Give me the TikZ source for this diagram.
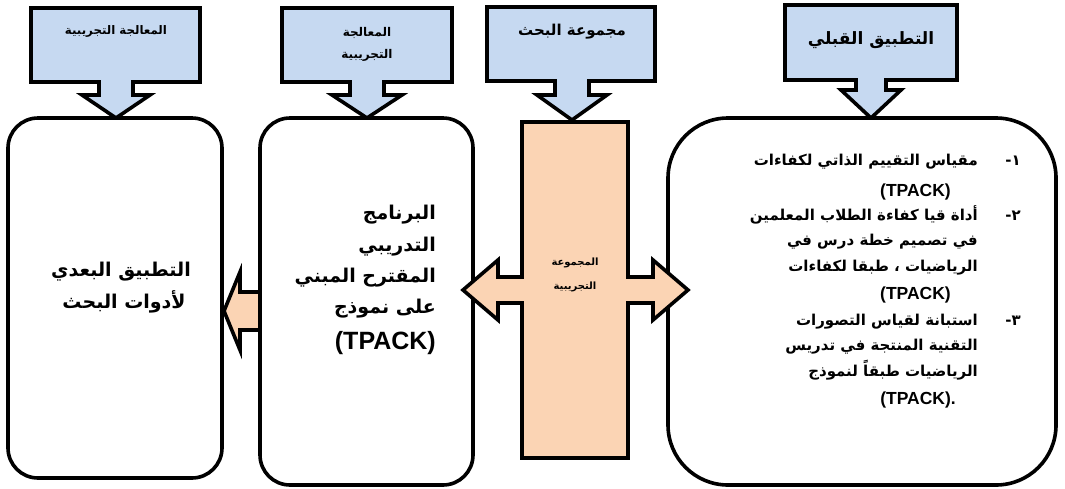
\documentclass[tikz,border=0pt]{standalone}
\usepackage{fontspec}
\TeXXeTstate=1
\newfontfamily\arfont[Script=Arabic]{DejaVu Sans}
\newfontfamily\latfont{Liberation Sans}
\newcommand\AR[1]{{\arfont\bfseries\beginR #1\endR}}
\newcommand\TP[1]{{\latfont\bfseries\beginL #1\endL}}
\definecolor{cblue}{HTML}{C6D9F1}
\definecolor{corange}{HTML}{FBD4B4}
% #1 left, #2 right, #3 top, #4 bottom, #5 centre x, #6 stem half, #7 head half, #8 stem bottom, #9 tip
\newcommand\mycallout[9]{%
  \draw[outl, fill=cblue] (#1,#3) -- (#2,#3) -- (#2,#4) -- ({#5+#6},#4) -- ({#5+#6},#8)
    -- ({#5+#7},#8) -- (#5,#9) -- ({#5-#7},#8) -- ({#5-#6},#8) -- ({#5-#6},#4) -- (#1,#4) -- cycle;}
\begin{document}
\begin{tikzpicture}[x=1pt,y=-1pt,
  outl/.style={draw=black,line width=3.6pt,line join=miter},
  rbox/.style={outl, fill=white, rectangle, rounded corners=#1, inner sep=0pt},
  lbl/.style={inner sep=0pt, text=black},
  big/.style={lbl, font=\fontsize{19}{22}\selectfont, anchor=base east},
  mid/.style={lbl, font=\fontsize{19}{22}\selectfont, anchor=base},
  lst/.style={lbl, font=\fontsize{15}{18}\selectfont, anchor=base east},
  lstp/.style={lbl, font=\fontsize{17.5}{20}\selectfont, anchor=base east},
]
\useasboundingbox (0,0) rectangle (1065,488);

% callouts
\mycallout{31}{200}{8}{82}{116}{17}{34}{95}{118}
\mycallout{282}{452}{8}{82}{367}{17}{35}{95}{118}
\mycallout{487}{655}{7}{81}{572}{17}{35}{95}{120}
\mycallout{785}{957}{5}{80}{871}{15}{30}{90}{118}
\node[lbl, font=\fontsize{11.8}{13}\selectfont] (c1) at (116,31) {\AR{المعالجة التجريبية}};
\node[lbl, font=\fontsize{12}{14}\selectfont] (c2a) at (367,33) {\AR{المعالجة}};
\node[lbl, font=\fontsize{12}{14}\selectfont] (c2b) at (367,55) {\AR{التجريبية}};
\node[lbl, font=\fontsize{15}{17}\selectfont] (c3) at (572,32) {\AR{مجموعة البحث}};
\node[lbl, font=\fontsize{17}{20}\selectfont] (c4) at (871,40) {\AR{التطبيق القبلي}};

% post-test box
\node[rbox=30pt, minimum width=214pt, minimum height=360pt] (post) at (115,298) {};
\node[mid] (p1) at (121,276) {\AR{التطبيق البعدي}};
\node[mid] (p2) at (124,308) {\AR{لأدوات البحث}};

% arrow programme -> post
\draw[outl, fill=corange] (260,292) -- (240,292) -- (240,272) -- (224,311) -- (240,350) -- (240,330) -- (260,330);

% programme box
\node[rbox=30pt, minimum width=213pt, minimum height=367pt] (prog) at (366.5,301.5) {};
\node[big] (g1) at (436,219) {\AR{البرنامج}};
\node[big] (g2) at (436,251) {\AR{التدريبي}};
\node[big] (g3) at (436,282) {\AR{المقترح المبني}};
\node[big] (g4) at (436,313) {\AR{على نموذج}};
\node[lbl, font=\fontsize{25}{28}\selectfont, anchor=base east] (g5) at (436,349) {\TP{(TPACK)}};

% pre-test box
\node[rbox=60pt, minimum width=388pt, minimum height=367pt] (pre) at (862,301.5) {};
\node[lst] (r1) at (978,165) {\AR{مقياس التقييم الذاتي لكفاءات}};
\node[lstp] (r2) at (951,196) {\TP{(TPACK)}};
\node[lst] (r3) at (978,220) {\AR{أداة قيا كفاءة الطلاب المعلمين}};
\node[lst] (r4) at (978,245) {\AR{في تصميم خطة درس في}};
\node[lst] (r5) at (978,271) {\AR{الرياضيات ، طبقا لكفاءات}};
\node[lstp] (r6) at (951,299) {\TP{(TPACK)}};
\node[lst] (r7) at (978,325) {\AR{استبانة لقياس التصورات}};
\node[lst] (r8) at (978,350) {\AR{التقنية المنتجة في تدريس}};
\node[lst] (r9) at (978,376) {\AR{الرياضيات طبقاً لنموذج}};
\node[lstp] (r10) at (956,404) {\TP{(TPACK).}};
\node[lst] (n1) at (1021,165) {{\arfont\bfseries ١-}};
\node[lst] (n2) at (1021,220) {{\arfont\bfseries ٢-}};
\node[lst] (n3) at (1021,325) {{\arfont\bfseries ٣-}};

% experimental group column with double arrow
\draw[outl, fill=corange] (522,122) -- (628,122) -- (628,277) -- (653,277) -- (653,260) -- (688,290)
  -- (653,320) -- (653,303) -- (628,303) -- (628,458) -- (522,458) -- (522,303) -- (498,303)
  -- (498,320) -- (463,290) -- (498,260) -- (498,277) -- (522,277) -- cycle;
\node[lbl, font=\fontsize{10}{12}\selectfont] (e1) at (575,263) {\AR{المجموعة}};
\node[lbl, font=\fontsize{10}{12}\selectfont] (e2) at (575,287) {\AR{التجريبية}};
\end{tikzpicture}
\end{document}
